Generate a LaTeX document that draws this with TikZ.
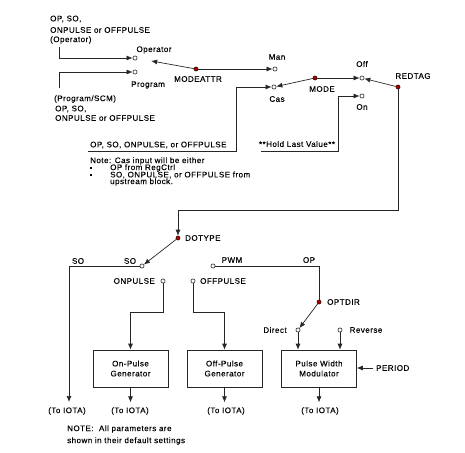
\documentclass[tikz,border=0pt]{standalone}
\usepackage{fontspec}
\setmainfont{Liberation Sans}[LetterSpace=6,FakeBold=0.3]
\usetikzlibrary{arrows.meta,calc}
\begin{document}
\begin{tikzpicture}[x=1pt,y=-1pt,
  wire/.style={draw=black!85,line width=0.7pt},
  arr/.style={wire,-{Latex[length=6pt,width=5pt]}},
  term/.style={circle,draw=black!85,line width=0.6pt,fill=white,inner sep=0pt,minimum size=4.2pt},
  pivot/.style={circle,draw=black,line width=0.4pt,fill=red!70!black,inner sep=0pt,minimum size=4.2pt},
  lbl/.style={inner sep=0pt,font=\fontsize{8}{9.5}\selectfont},
  lw/.style={lbl,anchor=west},
  blk/.style={draw=black!85,line width=0.7pt,minimum width=75pt,minimum height=37pt,align=center,inner sep=0pt,font=\fontsize{8}{10}\selectfont},
  bul/.style={fill=black,inner sep=0pt,minimum size=2.2pt}]
\useasboundingbox (0,0) rectangle (465,452);

% ---- top-left inputs
\node[lw] (t1) at (50,19) {OP, SO,};
\node[lw] (t2) at (50,30) {ONPULSE or OFFPULSE};
\node[lw] (t3) at (50,40) {(Operator)};
\node[lw] (t4) at (54,99) {(Program/SCM)};
\node[lw] (t5) at (55,109) {OP, SO,};
\node[lw] (t6) at (55,118) {ONPULSE or OFFPULSE};

\coordinate (opin) at (59,47);
\coordinate (prin) at (59,88);
\node[term] (opT) at (135,58) {};
\node[term] (prT) at (135,72) {};
\draw[arr] (opin) |- (opT);
\draw[arr] (prin) |- (prT);
\node[lbl] (lop) at (154,50) {Operator};
\node[lbl] (lpr) at (148,85) {Program};

% ---- MODEATTR
\node[pivot] (ma) at (196,69) {};
\node[lbl] (lma) at (198,79) {MODEATTR};
\draw[arr,shorten >=14pt] (ma) -- (opT);
\node[term] (manT) at (275,69) {};
\node[lbl] (lman) at (277,57) {Man};
\draw[arr] (ma) -- (manT);

% ---- MODE
\node[term] (casT) at (274,87) {};
\node[lbl] (lcas) at (277,99) {Cas};
\node[pivot] (md) at (315,78) {};
\node[lbl] (lmd) at (322,89) {MODE};
\node[term] (offT) at (362,78) {};
\node[lbl] (loff) at (362,64) {Off};
\draw[arr] (md) -- (casT);
\draw[arr] (md) -- (offT);

% ---- REDTAG
\node[term] (onT) at (362,96) {};
\node[lbl] (lon) at (362,107) {On};
\node[pivot] (rt) at (398,87) {};
\node[lbl] (lrt) at (413,76) {REDTAG};
\draw[arr] (rt) -- (offT);

% ---- Hold last value
\node[lbl] (hlv) at (297,144) {**Hold Last Value**};
\coordinate (hlvL) at (261,151);
\coordinate (hlvC) at (338,151);
\draw[arr] (hlvL) -- (hlvC) |- (onT);

% ---- Cas input
\node[lw] (casin) at (90,145) {OP, SO, ONPULSE, or OFFPULSE};
\coordinate (casL) at (88,151);
\coordinate (casC) at (236,151);
\draw[arr] (casL) -- (casC) |- (casT);

\node[lw] (n1) at (90,161) {Note: Cas input will be either};
\node[bul] (b1) at (91,168) {};
\node[lw] (n2) at (110,168) {OP from RegCtrl};
\node[bul] (b2) at (91,175) {};
\node[lw] (n3) at (110,175) {SO, ONPULSE, or OFFPULSE from};
\node[lw] (n4) at (110,182) {upstream block.};

% ---- DOTYPE
\node[pivot] (dt) at (178,238) {};
\node[lw] (ldt) at (185,238) {DOTYPE};
\coordinate (rtb) at (398,210);
\draw[arr] (rt) -- (rtb) -| (dt);

\node[term] (soT) at (142,266) {};
\node[term] (pwmT) at (213,266) {};
\node[term] (onpT) at (163,281) {};
\node[term] (offpT) at (193,281) {};
\draw[arr] (dt) -- (soT);
\node[lbl] (lso1) at (78,261) {SO};
\node[lbl] (lso2) at (130,261) {SO};
\node[lbl] (lpwm) at (232,260) {PWM};
\node[lbl] (lopp) at (309,260) {OP};
\node[lbl,anchor=east] (lonp) at (155,281) {ONPULSE};
\node[lw] (loffp) at (200,281) {OFFPULSE};

% ---- OPTDIR
\node[pivot] (od) at (319,302) {};
\node[lw] (lod) at (327,302) {OPTDIR};
\coordinate (pwmC) at (319,266);
\draw[wire] (pwmT) -- (pwmC) -- (od);
\node[term] (dirT) at (298,330) {};
\node[term] (revT) at (340,330) {};
\node[lbl] (ldir) at (275,330) {Direct};
\node[lbl] (lrev) at (366,330) {Reverse};
\draw[arr] (od) -- (dirT);

% ---- blocks
\node[blk] (onbox) at (130.5,368.5) {On-Pulse\\Generator};
\node[blk] (offbox) at (224.5,368.5) {Off-Pulse\\Generator};
\node[blk] (pwmbox) at (319,368.5) {Pulse Width\\Modulator};

\coordinate (onb) at (163,312);
\coordinate (offb) at (193,312);
\draw[arr] (onpT) -- (onb) -| (onbox.north);
\draw[arr] (offpT) -- (offb) -| (offbox.north);
\draw[arr] (dirT) -- (dirT |- pwmbox.north);
\draw[arr] (revT) -- (revT |- pwmbox.north);

\node[lw] (lper) at (376,368) {PERIOD};
\draw[arr] (lper.west) ++(-3,0) coordinate (perS) -- (pwmbox.east |- perS);

% ---- outputs
\node[lbl] (io1) at (67,411) {(To IOTA)};
\node[lbl] (io2) at (130,411) {(To IOTA)};
\node[lbl] (io3) at (226,411) {(To IOTA)};
\node[lbl] (io4) at (320,411) {(To IOTA)};
\coordinate (soC) at (69,266);
\coordinate (soE) at (69,402);
\draw[arr] (soT) -- (soC) -- (soE);
\draw[arr] (onbox.south) -- ++(0,15);
\draw[arr] (offbox.south) -- ++(0,15);
\draw[arr] (pwmbox.south) -- ++(0,15);

\node[lw] (nt1) at (67,429) {NOTE:\ \ All parameters are};
\node[lw] (nt2) at (67,441) {shown in their default settings};
\end{tikzpicture}
\end{document}
